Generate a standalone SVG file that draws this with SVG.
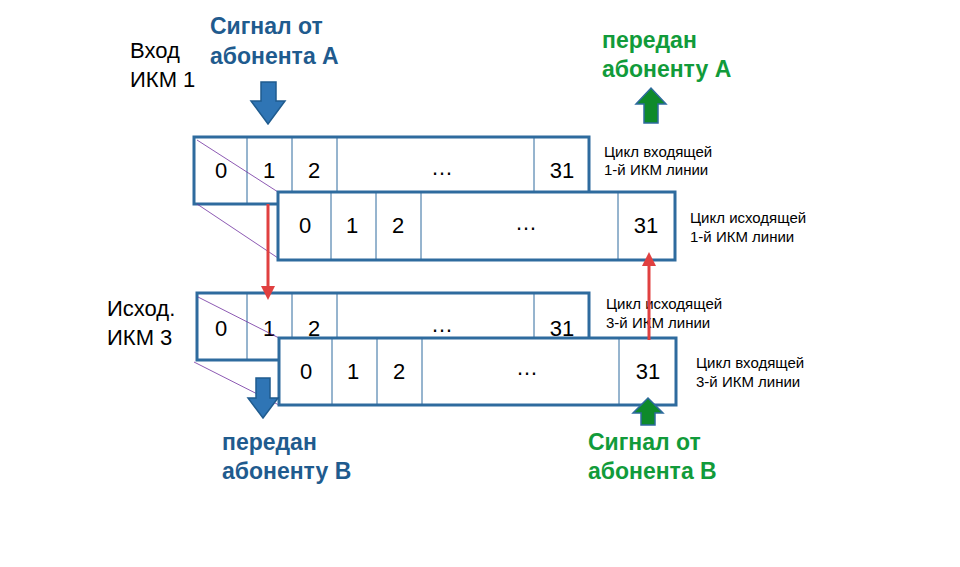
<svg xmlns="http://www.w3.org/2000/svg" width="960" height="567" viewBox="0 0 960 567">
<style>
.box{fill:#fff;stroke:#2e6b9e;stroke-width:3}
.div{stroke:#2e6b9e;stroke-width:1}
.diag{stroke:#7030a0;stroke-width:0.8}
.n{font-family:"Liberation Sans",Arial,sans-serif;font-size:22px;fill:#000;text-anchor:middle}
.s{font-family:"Liberation Sans",Arial,sans-serif;font-size:15px;fill:#000}
.l{font-family:"Liberation Sans",Arial,sans-serif;font-size:22px;fill:#000}
.bb{font-family:"Liberation Sans",Arial,sans-serif;font-size:23px;font-weight:bold;fill:#1f5b8e}
.gb{font-family:"Liberation Sans",Arial,sans-serif;font-size:23px;font-weight:bold;fill:#119b3a}
.blue{fill:#2f75b5;stroke:#1f5b8e;stroke-width:1.5}
.green{fill:#0e8a2a;stroke:#2e6b9e;stroke-width:1.5}
.red{stroke:#e04040;stroke-width:3;fill:none}
</style>
<rect width="960" height="567" fill="#fff"/>
<g id="f1">
<rect class="box" x="194" y="137" width="395" height="67"/>
<path class="div" d="M247 137V204M292 137V204M337 137V204M534 137V204"/>
<text class="n" x="221" y="178">0</text><text class="n" x="269" y="178">1</text><text class="n" x="314" y="178">2</text><text class="n" x="442" y="175">…</text><text class="n" x="562" y="178">31</text>
<text class="s" x="604" y="157">Цикл  входящей</text><text class="s" x="604" y="175">1-й ИКМ линии</text>
</g>
<g id="f1d"><path class="diag" d="M197 140L278 192M197 204L278 258"/></g>
<g id="f2">
<rect class="box" x="278" y="192" width="397" height="68"/>
<path class="div" d="M331 192V260M376 192V260M421 192V260M618 192V260"/>
<text class="n" x="305" y="233">0</text><text class="n" x="352" y="233">1</text><text class="n" x="398" y="233">2</text><text class="n" x="526" y="230">…</text><text class="n" x="646" y="233">31</text>
<text class="s" x="690" y="223">Цикл  исходящей</text><text class="s" x="690" y="242">1-й ИКМ линии</text>
</g>
<g id="f3">
<rect class="box" x="197" y="293" width="392" height="67"/>
<path class="div" d="M247 293V360M292 293V360M337 293V360M534 293V360"/>
<text class="n" x="221" y="336">0</text><text class="n" x="269" y="336">1</text><text class="n" x="314" y="336">2</text><text class="n" x="442" y="332">…</text><text class="n" x="562" y="336">31</text>
</g>
<g id="f3d"><path class="diag" d="M198 297L279 338M194 362L279 405"/></g>
<g id="f4">
<rect class="box" x="279" y="338" width="397" height="67"/>
<path class="div" d="M332 338V405M377 338V405M422 338V405M619 338V405"/>
<text class="n" x="306" y="379">0</text><text class="n" x="353" y="379">1</text><text class="n" x="399" y="379">2</text><text class="n" x="527" y="375">…</text><text class="n" x="648" y="379">31</text>
<text class="s" x="696" y="368">Цикл  входящей</text><text class="s" x="696" y="387">3-й ИКМ линии</text>
</g>
<text class="s" x="606" y="309">Цикл  исходящей</text><text class="s" x="606" y="328">3-й ИКМ линии</text>
<g id="connectors">
<path class="red" d="M268 204V288"/><path fill="#e04040" d="M261 286L268 300L275 286Z"/>
<path class="red" d="M649 340V264"/><path fill="#e04040" d="M642 266L649 252L656 266Z"/>
</g>
<g id="arrows">
<path class="blue" d="M261 82H276V101H285L268 124L251 101H261Z"/>
<path class="green" d="M644 123H658V104H666L651 88L636 104H644Z"/>
<path class="blue" d="M256 378H270V398H278L263 418L248 398H256Z"/>
<path class="green" d="M641 425H655V413H663L648 398L633 413H641Z"/>
</g>
<g id="labels">
<text class="l" x="130" y="58">Вход</text><text class="l" x="130" y="87">ИКМ  1</text>
<text class="l" x="107" y="316">Исход.</text><text class="l" x="107" y="345">ИКМ  3</text>
<text class="bb" x="210" y="34">Сигнал от</text><text class="bb" x="210" y="64">абонента А</text>
<text class="gb" x="602" y="48">передан</text><text class="gb" x="602" y="77">абоненту А</text>
<text class="bb" x="222" y="450">передан</text><text class="bb" x="222" y="479">абоненту В</text>
<text class="gb" x="588" y="450">Сигнал от</text><text class="gb" x="588" y="479">абонента В</text>
</g>
</svg>
